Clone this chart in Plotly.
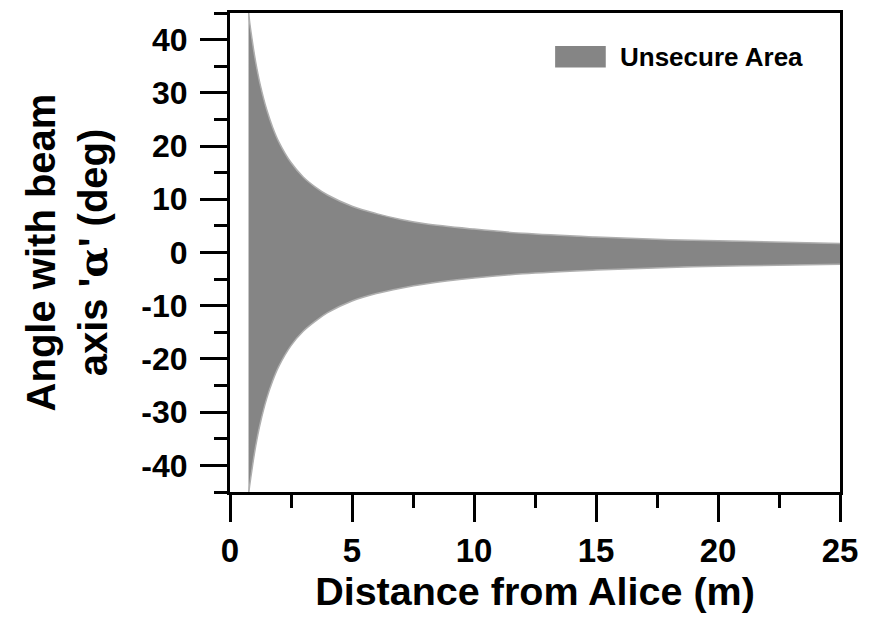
import plotly.graph_objects as go

# Distance from Alice (m)
distance = [0.76, 0.8, 0.9, 1.0, 1.1, 1.25, 1.5, 1.75, 2.0, 2.5, 3.0, 3.5, 4.0,
            5.0, 6.0, 7.0, 8.0, 10.0, 12.0, 15.0, 18.0, 21.0, 25.0]
# Upper and lower boundaries of the unsecure area (deg)
upper_angle = [45.5, 43.5, 40.2, 37.2, 34.6, 31.3, 26.9, 23.5, 20.8, 16.9, 14.2, 12.3, 10.8,
               8.7, 7.3, 6.2, 5.4, 4.4, 3.6, 2.9, 2.4, 2.1, 1.7]
lower_angle = [-45.5, -44.0, -40.8, -37.8, -35.2, -31.9, -27.5, -24.1, -21.4, -17.5, -14.8, -12.9, -11.3,
               -9.1, -7.7, -6.7, -5.9, -4.8, -4.0, -3.3, -2.8, -2.5, -2.2]

x_ticks = [0, 5, 10, 15, 20, 25]
y_ticks = [-40, -30, -20, -10, 0, 10, 20, 30, 40]
y_tick_labels = ["-40", "-30", "-20", "-10", "0", "10", "20", "30", "40"]
legend_label = "Unsecure Area"

FILL = "rgb(133,133,133)"
EDGE = "rgb(175,175,175)"
FONT = "Liberation Sans, Arial, sans-serif"

fig = go.Figure()
fig.add_trace(go.Scatter(x=distance, y=lower_angle, mode="lines",
                         line=dict(color=EDGE, width=1.5, shape="spline"),
                         showlegend=False, hoverinfo="skip"))
fig.add_trace(go.Scatter(x=distance, y=upper_angle, mode="lines", fill="tonexty",
                         fillcolor=FILL, line=dict(color=EDGE, width=1.5, shape="spline"),
                         name=legend_label, showlegend=False))

axis_common = dict(
    showline=True, linecolor="black", linewidth=3, mirror=True,
    ticks="outside", ticklen=27, tickwidth=3, tickcolor="black",
    showgrid=False, zeroline=False,
)

fig.update_xaxes(
    range=[0, 25], tickmode="array", tickvals=x_ticks, ticklabelstandoff=0,
    tickfont_family=FONT, tickfont_size=33, tickfont_color="black", tickfont_weight="bold",
    minor=dict(ticks="outside", ticklen=13, tickwidth=3, tickcolor="black", dtick=2.5, tick0=0),
    title=dict(text="Distance from Alice (m)", standoff=2,
               font=dict(family=FONT, size=39.5, color="black", weight="bold")),
    **axis_common,
)
fig.update_yaxes(
    range=[-45, 45], tickmode="array", tickvals=y_ticks, ticktext=y_tick_labels, ticklabelstandoff=6,
    tickfont_family=FONT, tickfont_size=32, tickfont_color="black", tickfont_weight="bold",
    minor=dict(ticks="outside", ticklen=13, tickwidth=3, tickcolor="black", dtick=5, tick0=0),
    title=dict(text="Angle with beam<br>axis '<span style=\"font-family:'DejaVu Serif'\">α</span>' (deg)",
               standoff=22,
               font=dict(family=FONT, size=40, color="black", weight="bold")),
    **axis_common,
)

# legend key drawn as a swatch plus label
fig.add_shape(type="rect", xref="paper", yref="paper", x0=0.533, x1=0.616, y0=0.886, y1=0.931,
              fillcolor=FILL, line=dict(width=0))
fig.add_annotation(xref="paper", yref="paper", x=0.636, y=0.909, xanchor="left", yanchor="middle",
                   text=legend_label, showarrow=False,
                   font=dict(family=FONT, size=26, color="black", weight="bold"))

fig.update_layout(
    width=871, height=619,
    margin=dict(l=230, r=31, t=10, b=127),
    plot_bgcolor="white", paper_bgcolor="white",
    showlegend=False,
)

fig.write_html("out.html")
